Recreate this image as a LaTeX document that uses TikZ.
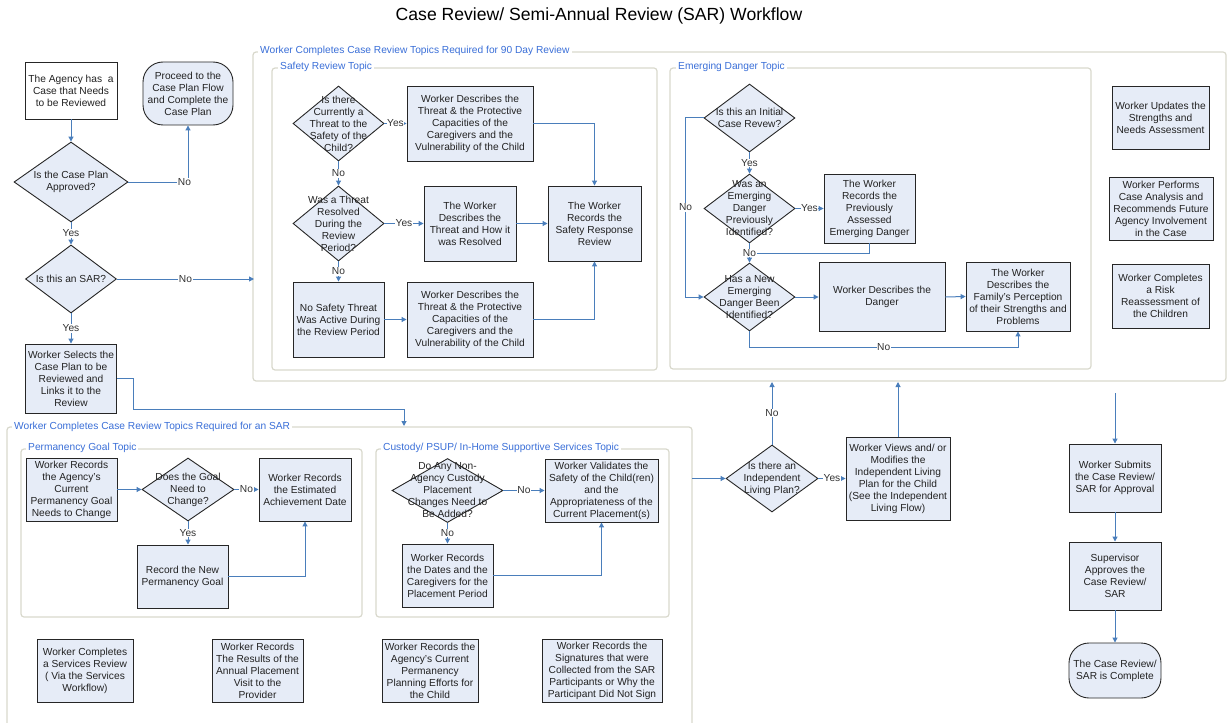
\documentclass[tikz,border=0pt]{standalone}
\usepackage{fontspec}
\setmainfont{Liberation Sans}
\usetikzlibrary{shapes.geometric,arrows.meta}
\definecolor{boxfill}{HTML}{E6ECF7}
\definecolor{connc}{HTML}{4A7EBB}
\definecolor{framec}{HTML}{D8D8CC}
\definecolor{grptext}{HTML}{3A6FD8}
\definecolor{txt}{HTML}{222222}
\begin{document}
\begin{tikzpicture}[x=1pt,y=-1pt,
 every node/.style={font=\fontsize{10.2}{12}\selectfont, text=txt},
 box/.style={draw=black!85, line width=0.9pt, fill=boxfill, align=center, inner sep=1pt},
 startbox/.style={box, fill=white},
 term/.style={box, rounded corners=20pt},
 dia/.style={draw=black!85, line width=0.9pt, fill=boxfill, diamond, inner sep=0pt},
 dtext/.style={align=center, inner sep=0pt, font=\fontsize{10.2}{12}\selectfont},
 conn/.style={draw=connc, line width=1pt, -{Triangle[length=5pt,width=5pt]}},
 plain/.style={draw=connc, line width=1pt},
 lab/.style={fill=white, inner sep=0.6pt, text=black!80},
 grp/.style={draw=framec, line width=1.2pt, rounded corners=3pt},
 grplbl/.style={fill=white, text=grptext, inner sep=2pt, anchor=west},
]
\useasboundingbox (0,0) rectangle (1230,722);

% title
\node[font=\fontsize{17.6}{21}\selectfont, text=black] (title) at (599,16) {Case Review/ Semi-Annual Review (SAR) Workflow};

% group frames
\draw[grp] (253,52) rectangle (1226,381);
\node[grplbl] (g90lbl) at (258,51) {Worker Completes Case Review Topics Required for 90 Day Review};
\draw[grp] (272,68) rectangle (657,370);
\node[grplbl] (gsafelbl) at (278,67) {Safety Review Topic};
\draw[grp] (670,68) rectangle (1091,369);
\node[grplbl] (gemlbl) at (676,67) {Emerging Danger Topic};
\draw[grp] (7,427) rectangle (692,745);
\node[grplbl] (gsarlbl) at (12,427) {Worker Completes Case Review Topics Required for an SAR};
\draw[grp] (21,449) rectangle (362,617);
\node[grplbl] (gpermlbl) at (26,448) {Permanency Goal Topic};
\draw[grp] (376,449) rectangle (669,617);
\node[grplbl] (gcustlbl) at (381,448) {Custody/ PSUP/ In-Home Supportive Services Topic};

% left column
\node[startbox, minimum width=92pt, minimum height=57pt] (start) at (71,90.5) {The Agency has \ a\\Case that Needs\\to be Reviewed};
\node[term, minimum width=90pt, minimum height=63pt] (proceed) at (188,93.5) {Proceed to the\\Case Plan Flow\\and Complete the\\Case Plan};
\node[dia, minimum width=114pt, minimum height=80pt, label={[dtext]center:{Is the Case Plan\\Approved?}}] (dcp) at (71,182) {};
\node[dia, minimum width=91pt, minimum height=68pt, label={[dtext]center:{Is this an SAR?}}] (dsar) at (71,279) {};
\node[box, minimum width=91pt, minimum height=69pt] (sel) at (71,378.5) {Worker Selects the\\Case Plan to be\\Reviewed and\\Links it to the\\Review};
\coordinate (g90in) at (254,279);
\coordinate (sarin) at (404,426);

% safety review
\node[dia, minimum width=91pt, minimum height=75pt, label={[dtext]center:{Is there\\Currently a\\Threat to the\\Safety of the\\Child?}}] (d1) at (338.5,123.5) {};
\node[box, minimum width=126pt, minimum height=75pt] (b1) at (470,123.5) {Worker Describes the\\Threat \& the Protective\\Capacities of the\\Caregivers and the\\Vulnerability of the Child};
\node[dia, minimum width=91pt, minimum height=75pt, label={[dtext]center:{Was a Threat\\Resolved\\During the\\Review\\Period?}}] (d2) at (338.5,223.5) {};
\node[box, minimum width=92pt, minimum height=75pt] (b2) at (470,223.5) {The Worker\\Describes the\\Threat and How it\\was Resolved};
\node[box, minimum width=93pt, minimum height=75pt] (b3) at (594.5,223.5) {The Worker\\Records the\\Safety Response\\Review};
\node[box, minimum width=91pt, minimum height=75pt] (b4) at (338.5,319.5) {No Safety Threat\\Was Active During\\the Review Period};
\node[box, minimum width=126pt, minimum height=75pt] (b5) at (470,319.5) {Worker Describes the\\Threat \& the Protective\\Capacities of the\\Caregivers and the\\Vulnerability of the Child};

% emerging danger
\node[dia, minimum width=91pt, minimum height=68pt, label={[dtext]center:{Is this an Initial\\Case Revew?}}] (e1) at (749.5,118) {};
\node[dia, minimum width=91pt, minimum height=69pt, label={[dtext]center:{Was an\\Emerging\\Danger\\Previously\\Identified?}}] (e2) at (749.5,208.5) {};
\node[box, minimum width=91pt, minimum height=69pt] (e3) at (869.5,208.5) {The Worker\\Records the\\Previously\\Assessed\\Emerging Danger};
\node[dia, minimum width=91pt, minimum height=68pt, label={[dtext]center:{Has a New\\Emerging\\Danger Been\\Identified?}}] (e4) at (749.5,297) {};
\node[box, minimum width=126pt, minimum height=69pt] (e5) at (882,297) {Worker Describes the\\Danger};
\node[box, minimum width=104pt, minimum height=69pt] (e6) at (1018,296.5) {The Worker\\Describes the\\Family's Perception\\of their Strengths and\\Problems};
\coordinate (ejoin) at (749.5,253);

% right column of 90 day group
\node[box, minimum width=97pt, minimum height=63pt] (r1) at (1160.5,117.5) {Worker Updates the\\Strengths and\\Needs Assessment};
\node[box, minimum width=104pt, minimum height=63pt] (r2) at (1161,208.5) {Worker Performs\\Case Analysis and\\Recommends Future\\Agency Involvement\\in the Case};
\node[box, minimum width=97pt, minimum height=64pt] (r3) at (1160.5,296) {Worker Completes\\a Risk\\Reassessment of\\the Children};

% permanency goal
\node[box, minimum width=91pt, minimum height=63pt] (p1) at (71.5,489.5) {Worker Records\\the Agency's\\Current\\Permanency Goal\\Needs to Change};
\node[dia, minimum width=92pt, minimum height=63pt, label={[dtext]center:{Does the Goal\\Need to\\Change?}}] (p2) at (188,489.5) {};
\node[box, minimum width=92pt, minimum height=63pt] (p3) at (305,489.5) {Worker Records\\the Estimated\\Achievement Date};
\node[box, minimum width=91pt, minimum height=63pt] (p4) at (182.5,576.5) {Record the New\\Permanency Goal};

% custody
\node[dia, minimum width=111pt, minimum height=64pt, label={[dtext]center:{Do Any Non-\\Agency Custody\\Placement\\Changes Need to\\Be Added?}}] (c1) at (447.5,490.5) {};
\node[box, minimum width=113pt, minimum height=63pt] (c2) at (601.5,490.5) {Worker Validates the\\Safety of the Child(ren)\\and the\\Appropriateness of the\\Current Placement(s)};
\node[box, minimum width=91pt, minimum height=63pt] (c3) at (447.5,575.5) {Worker Records\\the Dates and the\\Caregivers for the\\Placement Period};

% SAR bottom row
\node[box, minimum width=96pt, minimum height=63pt] (s1) at (85,670.5) {Worker Completes\\a Services Review\\( Via the Services\\Workflow)};
\node[box, minimum width=91pt, minimum height=63pt] (s2) at (257.5,670.5) {Worker Records\\The Results of the\\Annual Placement\\Visit to the\\Provider};
\node[box, minimum width=96pt, minimum height=63pt] (s3) at (430,670.5) {Worker Records the\\Agency's Current\\Permanency\\Planning Efforts for\\the Child};
\node[box, minimum width=120pt, minimum height=63pt] (s4) at (602,670.5) {Worker Records the\\Signatures that were\\Collected from the SAR\\Participants or Why the\\Participant Did Not Sign};

% independent living and end
\coordinate (sarout) at (692,478.5);
\node[dia, minimum width=92pt, minimum height=67pt, label={[dtext]center:{Is there an\\Independent\\Living Plan?}}] (il) at (772,478.5) {};
\node[box, minimum width=104pt, minimum height=83pt] (ilbox) at (898,478.5) {Worker Views and/ or\\Modifies the\\Independent Living\\Plan for the Child\\(See the Independent\\Living Flow)};
\coordinate (ilup) at (772,382);
\coordinate (ilbup) at (898,382);
\coordinate (subin) at (1115,393);
\node[box, minimum width=92pt, minimum height=68pt] (submit) at (1115,478) {Worker Submits\\the Case Review/\\SAR for Approval};
\node[box, minimum width=92pt, minimum height=68pt] (super) at (1115,576) {Supervisor\\Approves the\\Case Review/\\SAR};
\node[term, minimum width=92pt, minimum height=55pt] (endt) at (1115,670.5) {The Case Review/\\SAR is Complete};

% connectors: left column
\draw[conn] (start) -- (dcp);
\draw[conn] (dcp.east) -| node[lab, pos=0.47]{No} (proceed.south);
\draw[conn] (dcp.south) -- node[lab]{Yes} (dsar.north);
\draw[conn] (dsar.east) -- node[lab]{No} (g90in);
\draw[conn] (dsar.south) -- node[lab]{Yes} (sel.north);
\draw[conn] (sel.east) -- ++(17,0) -- ++(0,31) -| (sarin);

% safety
\draw[conn] (d1.east) -- node[lab]{Yes} (b1.west);
\draw[conn] (d1.south) -- node[lab]{No} (d2.north);
\draw[conn] (d2.east) -- node[lab]{Yes} (b2.west);
\draw[conn] (d2.south) -- node[lab]{No} (b4.north);
\draw[conn] (b2.east) -- (b3.west);
\draw[conn] (b1.east) -| (b3.north);
\draw[conn] (b4.east) -- (b5.west);
\draw[conn] (b5.east) -| (b3.south);

% emerging
\draw[conn] (e1.south) -- node[lab]{Yes} (e2.north);
\draw[conn] (e2.east) -- node[lab]{Yes} (e3.west);
\draw[plain] (e3.south) |- (ejoin);
\draw[conn] (e2.south) -- node[lab]{No} (e4.north);
\draw[conn] (e1.west) -- ++(-18,0) |- node[lab, pos=0.25]{No} (e4.west);
\draw[conn] (e4.east) -- (e5.west);
\draw[conn] (e5.east) -- (e6.west);
\draw[conn] (e4.south) -- ++(0,16) -| node[lab, pos=0.25]{No} (e6.south);

% permanency
\draw[conn] (p1.east) -- (p2.west);
\draw[conn] (p2.east) -- node[lab]{No} (p3.west);
\draw[conn] (p2.south) -- node[lab]{Yes} (p2.south |- p4.north);
\draw[conn] (p4.east) -| (p3.south);

% custody
\draw[conn] (c1.east) -- node[lab]{No} (c2.west);
\draw[conn] (c1.south) -- node[lab]{No} (c3.north);
\draw[conn] (c3.east) -| (c2.south);

% independent living, submit
\draw[conn] (sarout) -- (il.west);
\draw[conn] (il.north) -- node[lab]{No} (ilup);
\draw[conn] (il.east) -- node[lab]{Yes} (ilbox.west);
\draw[conn] (ilbox.north) -- (ilbup);
\draw[conn] (subin) -- (submit.north);
\draw[conn] (submit) -- (super);
\draw[conn] (super) -- (endt);
\end{tikzpicture}
\end{document}
